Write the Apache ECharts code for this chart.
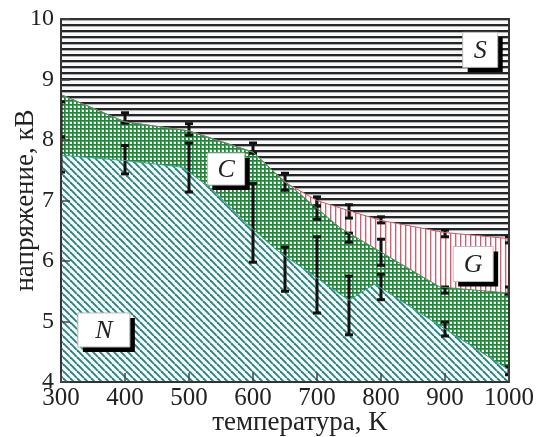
<!DOCTYPE html>
<html>
<head>
<meta charset="utf-8">
<script src="https://cdn.jsdelivr.net/npm/echarts@6/dist/echarts.min.js"></script>
<style>
  html, body { margin: 0; background: #fff; }
  #chart { width: 545px; height: 437px; }
</style>
</head>
<body>
<div id="chart"></div>
<script>
// region boundaries [температура, напряжение]
const sBottom = [[300, 8.75], [400, 8.3], [500, 8.15], [600, 7.8], [635, 7.45], [650, 7.3], [700, 7.0], [750, 6.83], [800, 6.67], [900, 6.47], [1000, 6.37]];
const cTop = [[300, 8.75], [400, 8.3], [500, 8.15], [600, 7.8], [635, 7.45], [736, 6.55], [892, 5.57], [1000, 5.47]];
const nTop = [[300, 7.75], [400, 7.66], [490, 7.55], [540, 7.15], [590, 6.62], [637, 6.18], [750, 5.35], [790, 5.62], [1000, 4.2]];

// error bars
const errT  = [300, 300, 400, 400, 500, 500, 600, 600, 650, 650, 700, 700, 700, 750, 750, 750, 800, 800, 800, 900, 900, 900, 1000, 1000, 1000];
const errLo = [8.05, 7.47, 8.28, 7.44, 8.08, 7.14, 7.78, 5.98, 7.17, 5.5, 6.91, 6.69, 5.14, 6.71, 6.31, 4.78, 6.63, 5.93, 5.36, 6.40, 5.47, 4.76, 6.3, 5.45, 4.12];
const errHi = [8.63, 8.05, 8.45, 7.91, 8.27, 7.95, 7.95, 7.28, 7.45, 6.23, 7.06, 6.91, 6.40, 6.93, 6.46, 5.75, 6.73, 6.36, 5.78, 6.51, 5.57, 4.99, 6.4, 5.57, 4.25];

// region labels
const regionNames = ['S', 'C', 'G', 'N'];
const regionT = [955, 558, 944, 367];
const regionV = [9.49, 7.52, 5.95, 4.86];
const boxSize = { S: [35, 35], C: [37, 32], G: [40, 35], N: [52, 34] };

const xTicks = { min: 300, max: 1000, interval: 100 };
const yTicks = { min: 4, max: 10, interval: 1 };

function tile(w, h, draw) {
  const c = document.createElement('canvas');
  c.width = w; c.height = h;
  const ctx = c.getContext('2d');
  draw(ctx, w, h);
  return { image: c, repeat: 'repeat' };
}

const patS = tile(6, 6, (ctx, w, h) => {
  ctx.fillStyle = '#f6f8fa'; ctx.fillRect(0, 0, w, h);
  ctx.fillStyle = '#262626'; ctx.fillRect(0, 0, w, 2);
  ctx.fillStyle = '#b0b0b0'; ctx.fillRect(0, 2, w, 1);
});
const patG = tile(5, 4, (ctx, w, h) => {
  ctx.fillStyle = '#ffffff'; ctx.fillRect(0, 0, w, h);
  ctx.fillStyle = '#d25f70'; ctx.fillRect(0, 0, 1, h);
  ctx.fillStyle = '#f0c4ca'; ctx.fillRect(1, 0, 1, h);
});
const patC = tile(4, 4, (ctx, w, h) => {
  ctx.fillStyle = '#f6fcf6'; ctx.fillRect(0, 0, w, h);
  ctx.fillStyle = '#4fa564'; ctx.fillRect(0, 1, w, 1); ctx.fillRect(1, 0, 1, h);
  ctx.fillStyle = '#23843a'; ctx.fillRect(0, 0, w, 1); ctx.fillRect(0, 0, 1, h);
});
const patN = tile(7, 7, (ctx, w, h) => {
  ctx.fillStyle = '#f2fbfb'; ctx.fillRect(0, 0, w, h);
  ctx.strokeStyle = '#2f807b'; ctx.lineWidth = 1.9;
  for (const o of [-7, 0, 7]) {
    ctx.beginPath(); ctx.moveTo(o, 0); ctx.lineTo(o + 7, 7); ctx.stroke();
  }
});

const serif = 'Liberation Serif';

const chart = echarts.init(document.getElementById('chart'));
chart.setOption({
  animation: false,
  grid: { left: 61, right: 36, top: 19, bottom: 55, containLabel: false, outerBoundsMode: 'none' },
  xAxis: [{
    type: 'value', min: xTicks.min, max: xTicks.max, interval: xTicks.interval, z: 10,
    name: 'температура, K', nameLocation: 'middle', nameGap: 27, nameMoveOverlap: false,
    nameTextStyle: { fontFamily: serif, fontSize: 27, color: '#222', padding: [0, 0, 0, 30] },
    axisLine: { lineStyle: { color: '#333', width: 2 } },
    axisTick: { inside: true, length: 9, lineStyle: { color: '#444', width: 1.5 } },
    axisLabel: { fontFamily: serif, fontSize: 25, color: '#222', margin: 4, formatter: v => String(v) },
    splitLine: { show: false }
  }, {
    type: 'value', position: 'top', min: xTicks.min, max: xTicks.max, z: 10,
    axisLine: { show: true, lineStyle: { color: '#333', width: 2 } },
    axisTick: { show: false }, axisLabel: { show: false }, splitLine: { show: false }
  }],
  yAxis: [{
    type: 'value', min: yTicks.min, max: yTicks.max, interval: yTicks.interval, z: 10,
    name: 'напряжение, кВ', nameLocation: 'middle', nameGap: 22, nameMoveOverlap: false,
    nameTextStyle: { fontFamily: serif, fontSize: 27, color: '#222' },
    axisLine: { show: true, lineStyle: { color: '#333', width: 2 } },
    axisTick: { inside: true, length: 9, lineStyle: { color: '#444', width: 1.5 } },
    axisLabel: { fontFamily: serif, fontSize: 24, color: '#222', margin: 7 },
    splitLine: { show: false }
  }, {
    type: 'value', position: 'right', min: yTicks.min, max: yTicks.max, z: 10,
    axisLine: { show: true, lineStyle: { color: '#333', width: 2 } },
    axisTick: { show: false }, axisLabel: { show: false }, splitLine: { show: false }
  }],
  series: [
    {
      type: 'line', data: sBottom, showSymbol: false, silent: true,
      lineStyle: { width: 0 },
      areaStyle: { origin: 'end', color: patS, opacity: 1 }
    },
    {
      type: 'line', data: sBottom, showSymbol: false, silent: true,
      lineStyle: { color: '#c85a68', width: 1 },
      areaStyle: { origin: 'start', color: patG, opacity: 1 }
    },
    {
      type: 'line', data: cTop, showSymbol: false, silent: true,
      lineStyle: { color: '#3c9a5a', width: 1 },
      areaStyle: { origin: 'start', color: patC, opacity: 1 }
    },
    {
      type: 'line', data: nTop, showSymbol: false, silent: true,
      lineStyle: { color: '#3aa39c', width: 1 },
      areaStyle: { origin: 'start', color: patN, opacity: 1 }
    },
    {
      type: 'custom', silent: true, z: 3, clip: true,
      data: errT.map((t, i) => [t, errLo[i], errHi[i]]),
      renderItem(params, api) {
        const lo = api.coord([api.value(0), api.value(1)]);
        const hi = api.coord([api.value(0), api.value(2)]);
        const hw = 4;
        const st = { stroke: '#111', lineWidth: 3, fill: null };
        return {
          type: 'group',
          children: [
            { type: 'line', shape: { x1: lo[0], y1: lo[1], x2: hi[0], y2: hi[1] }, style: st },
            { type: 'line', shape: { x1: lo[0] - hw, y1: lo[1], x2: lo[0] + hw, y2: lo[1] }, style: st },
            { type: 'line', shape: { x1: hi[0] - hw, y1: hi[1], x2: hi[0] + hw, y2: hi[1] }, style: st }
          ]
        };
      }
    },
    {
      type: 'custom', silent: true, z: 20,
      data: regionNames.map((n, i) => [regionT[i], regionV[i]]),
      renderItem(params, api) {
        const p = api.coord([api.value(0), api.value(1)]);
        const name = regionNames[params.dataIndex];
        const [w, h] = boxSize[name];
        const x = p[0] - w / 2, y = p[1] - h / 2;
        return {
          type: 'group',
          children: [
            { type: 'rect', shape: { x: x + 5, y: y + 5, width: w, height: h }, style: { fill: '#000' } },
            { type: 'rect', shape: { x: x, y: y, width: w, height: h }, style: { fill: '#fff', stroke: '#bbb', lineWidth: 1 } },
            { type: 'text', x: p[0], y: p[1] + 1, style: {
                text: name, fill: '#222', font: 'italic 26px "Liberation Serif"',
                align: 'center', verticalAlign: 'middle' } }
          ]
        };
      }
    }
  ]
});
</script>
</body>
</html>
